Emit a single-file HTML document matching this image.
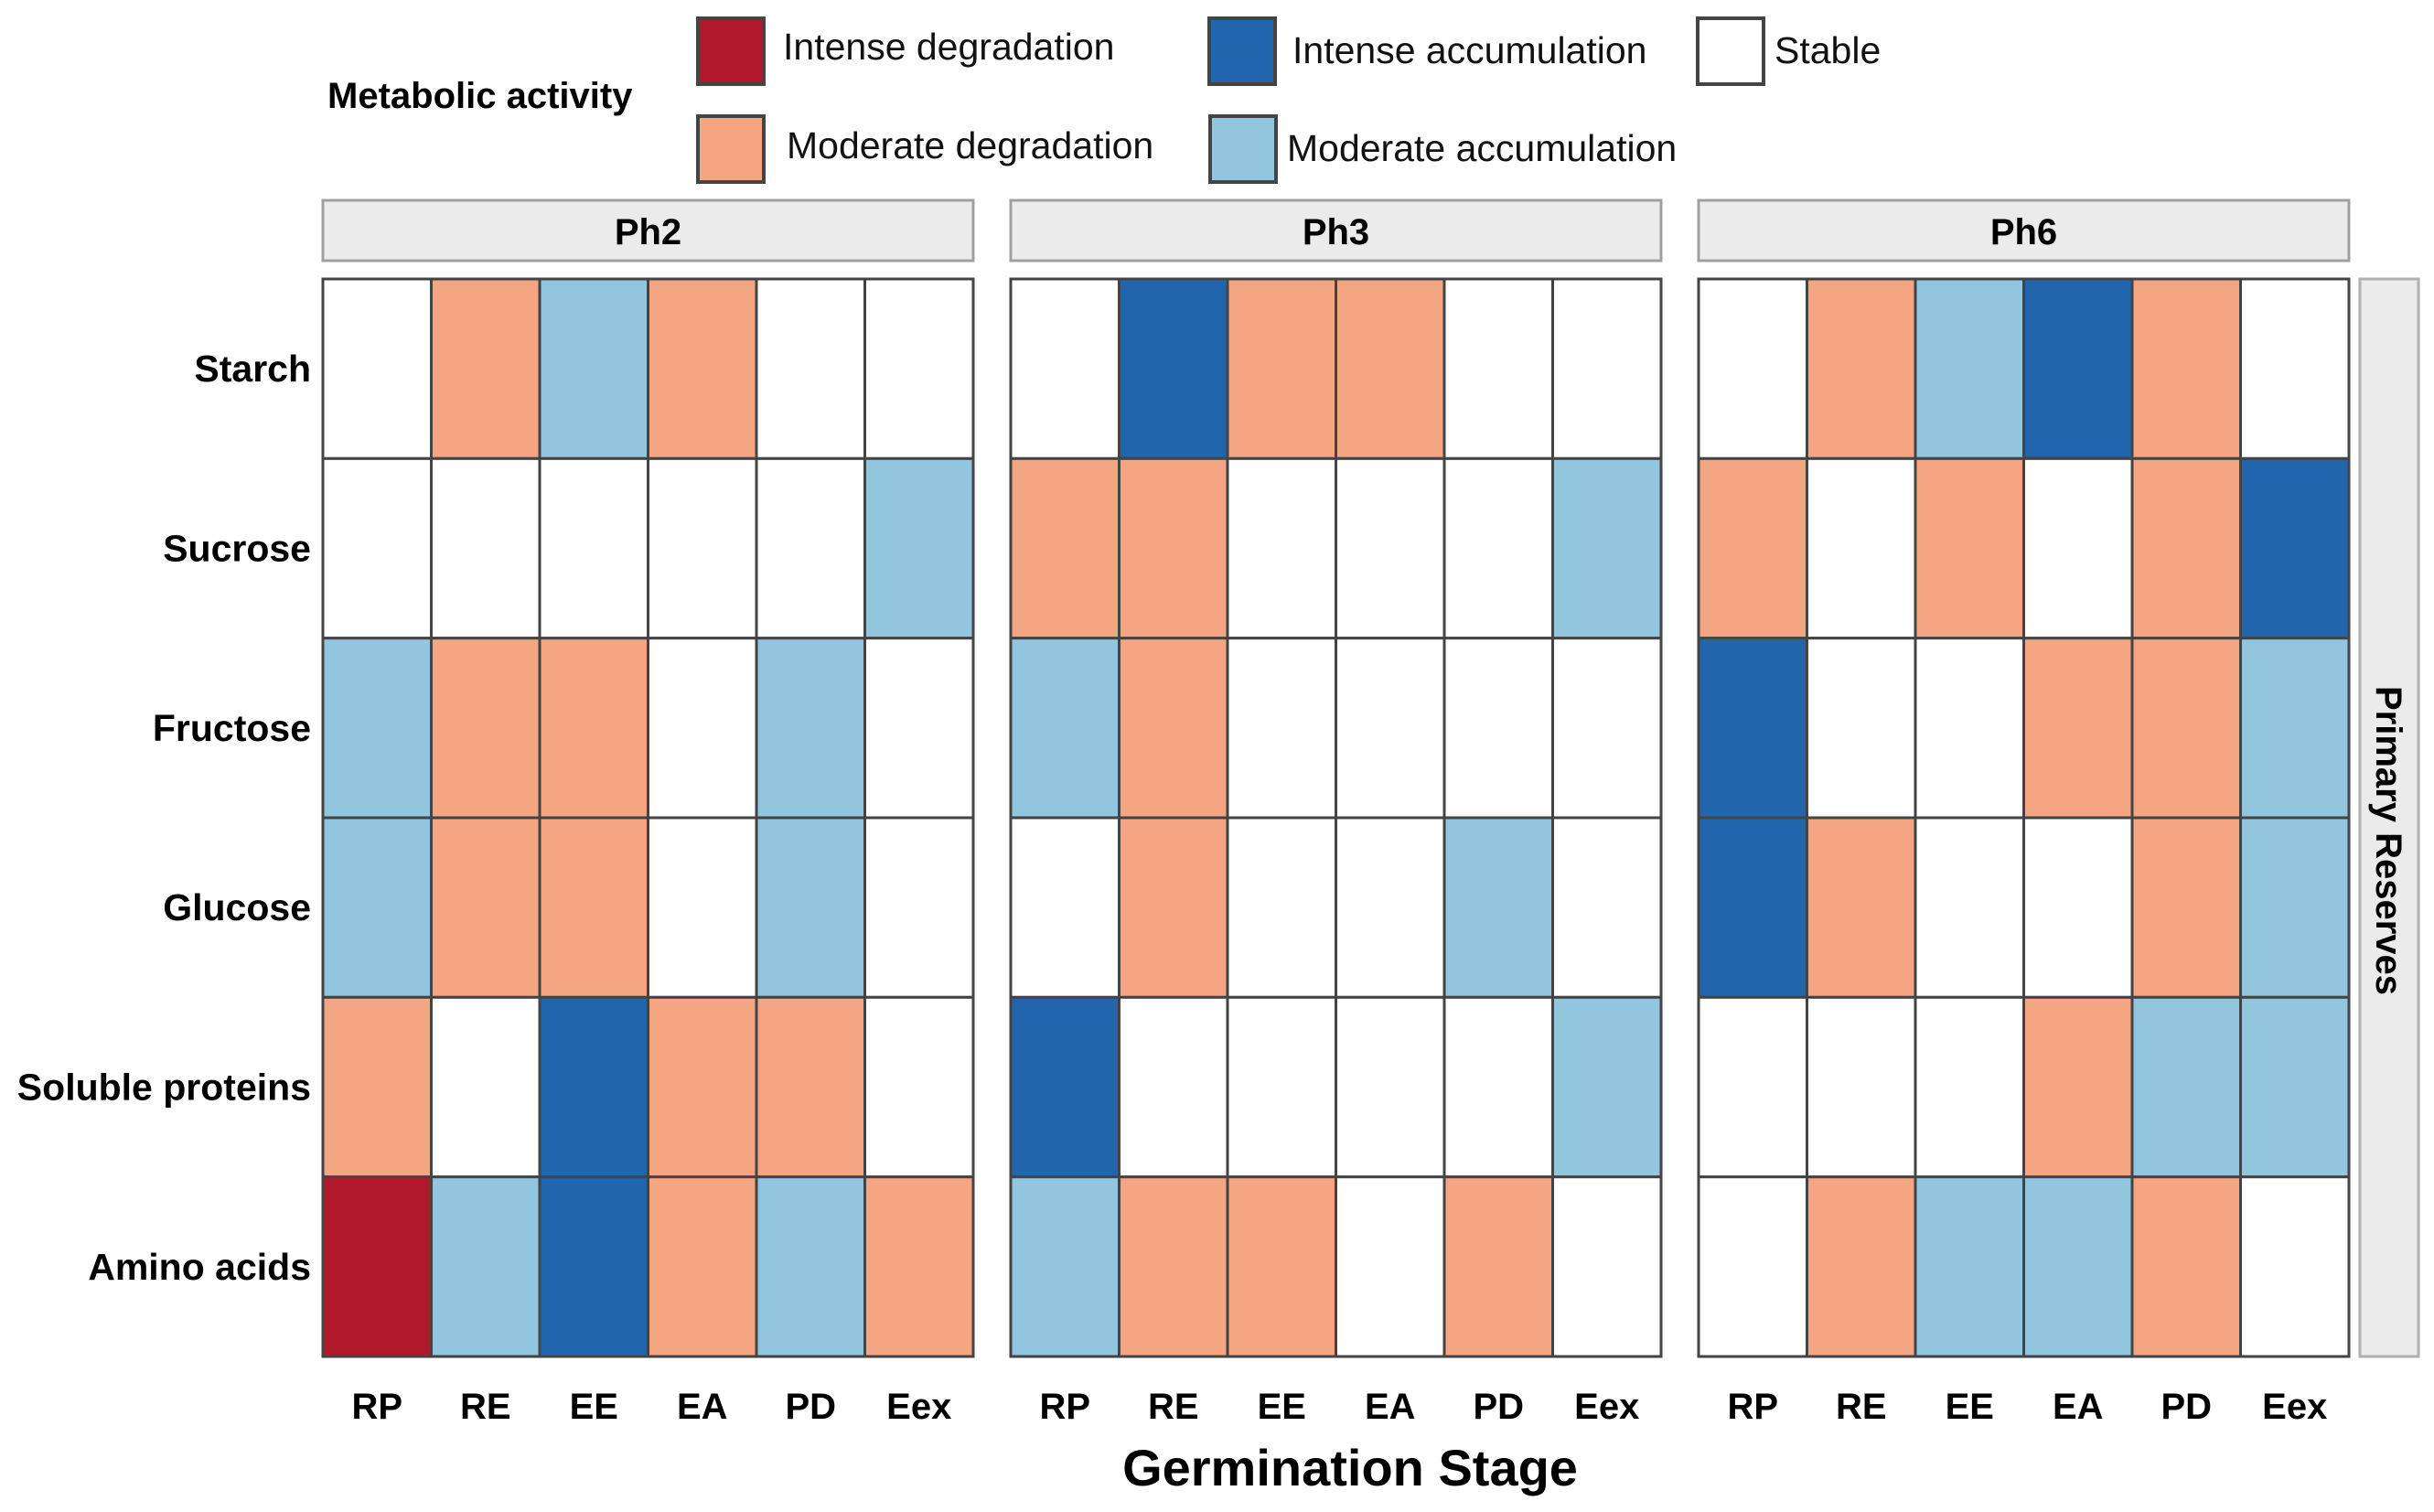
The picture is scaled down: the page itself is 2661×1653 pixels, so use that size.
<!DOCTYPE html>
<html><head><meta charset="utf-8">
<style>
html,body{margin:0;padding:0;background:#fff;}
svg{display:block;font-family:"Liberation Sans",Arial,sans-serif;}
</style></head>
<body>
<svg id="chart" width="2661" height="1653" viewBox="0 0 2661 1653" xmlns="http://www.w3.org/2000/svg">
  <g>
    <text x="358" y="118" font-size="40" font-weight="bold">Metabolic activity</text>
    <rect x="763" y="20" width="72" height="72" fill="#B2182B" stroke="#444" stroke-width="4"/>
    <text x="856" y="65" font-size="41" fill="#111">Intense degradation</text>
    <rect x="763" y="127" width="72" height="72" fill="#F4A582" stroke="#444" stroke-width="4"/>
    <text x="860" y="173" font-size="41" fill="#111">Moderate degradation</text>
    <rect x="1322" y="20" width="72" height="72" fill="#2166AC" stroke="#444" stroke-width="4"/>
    <text x="1413" y="69" font-size="41" fill="#111">Intense accumulation</text>
    <rect x="1323" y="127" width="72" height="72" fill="#92C5DE" stroke="#444" stroke-width="4"/>
    <text x="1407" y="176" font-size="41" fill="#111">Moderate accumulation</text>
    <rect x="1856" y="20" width="72" height="72" fill="#fff" stroke="#444" stroke-width="4"/>
    <text x="1940" y="69" font-size="41" fill="#111">Stable</text>
  </g>
  <g id="plot"></g>
  <text x="1476" y="1624" font-size="56" font-weight="bold" text-anchor="middle">Germination Stage</text>
</svg>
<script>
const panels = ["Ph2", "Ph3", "Ph6"];
const rows = ["Starch", "Sucrose", "Fructose", "Glucose", "Soluble proteins", "Amino acids"];
const stages = ["RP", "RE", "EE", "EA", "PD", "Eex"];
// W=stable, S=moderate degradation, R=intense degradation, L=moderate accumulation, D=intense accumulation
const ph2Values = [
  ["W","S","L","S","W","W"],
  ["W","W","W","W","W","L"],
  ["L","S","S","W","L","W"],
  ["L","S","S","W","L","W"],
  ["S","W","D","S","S","W"],
  ["R","L","D","S","L","S"]
];
const ph3Values = [
  ["W","D","S","S","W","W"],
  ["S","S","W","W","W","L"],
  ["L","S","W","W","W","W"],
  ["W","S","W","W","L","W"],
  ["D","W","W","W","W","L"],
  ["L","S","S","W","S","W"]
];
const ph6Values = [
  ["W","S","L","D","S","W"],
  ["S","W","S","W","S","D"],
  ["D","W","W","S","S","L"],
  ["D","S","W","W","S","L"],
  ["W","W","W","S","L","L"],
  ["W","S","L","L","S","W"]
];
const categoryColors = {W:"#FFFFFF", S:"#F4A582", R:"#B2182B", L:"#92C5DE", D:"#2166AC"};
const allValues = [ph2Values, ph3Values, ph6Values];

const NS = "http://www.w3.org/2000/svg";
const plot = document.getElementById("plot");
const panelLeft = [353, 1105, 1857], panelW = 711;
const top0 = 305, plotH = 1178;
const cellW = panelW / stages.length, cellH = plotH / rows.length;
function xPos(p, j){ return panelLeft[p] + j * cellW; }
function yPos(i){ return top0 + i * cellH; }
function mk(tag, attrs){ const e = document.createElementNS(NS, tag); for (const k in attrs) e.setAttribute(k, attrs[k]); return e; }

panels.forEach((pn, p) => {
  const strip = mk("rect", {x: panelLeft[p], y: 219, width: panelW, height: 66, fill: "#EBEBEB", stroke: "#A0A0A0", "stroke-width": 3});
  
  
  plot.appendChild(strip);
  const st = mk("text", {x: panelLeft[p] + panelW/2, y: 267, "font-size": 40, "font-weight": "bold", "text-anchor": "middle"});
  st.textContent = pn;
  
  
  plot.appendChild(st);
  const vals = allValues[p];
  rows.forEach((r, i) => {
    stages.forEach((s, j) => {
      const c = mk("rect", {x: xPos(p, j), y: yPos(i), width: cellW, height: cellH, fill: categoryColors[vals[i][j]], stroke: "#444", "stroke-width": 3});
      
      
      plot.appendChild(c);
    });
  });
  const fr = mk("rect", {x: panelLeft[p], y: top0, width: panelW, height: plotH, fill: "none", stroke: "#444", "stroke-width": 3});
  
  
  plot.appendChild(fr);
  stages.forEach((s, j) => {
    const t = mk("text", {x: xPos(p, j) + cellW/2, y: 1551, "font-size": 40, "font-weight": "bold", "text-anchor": "middle"});
    t.textContent = s;
    
    
    plot.appendChild(t);
  });
});
rows.forEach((r, i) => {
  const t = mk("text", {x: 340, y: yPos(i) + cellH/2 + 14, "font-size": 41, "font-weight": "bold", "text-anchor": "end"});
  t.textContent = r;
  
  
  plot.appendChild(t);
});
const rs = mk("rect", {x: 2580, y: top0, width: 64, height: plotH, fill: "#EBEBEB", stroke: "#B0B0B0", "stroke-width": 3});


plot.appendChild(rs);
const rt = mk("text", {x: 0, y: 0, "font-size": 40, "font-weight": "bold", "text-anchor": "middle", transform: "translate(2598," + (top0 + plotH/2 + 25) + ") rotate(90)"});
rt.textContent = "Primary Reserves";


plot.appendChild(rt);
</script>
</body></html>
